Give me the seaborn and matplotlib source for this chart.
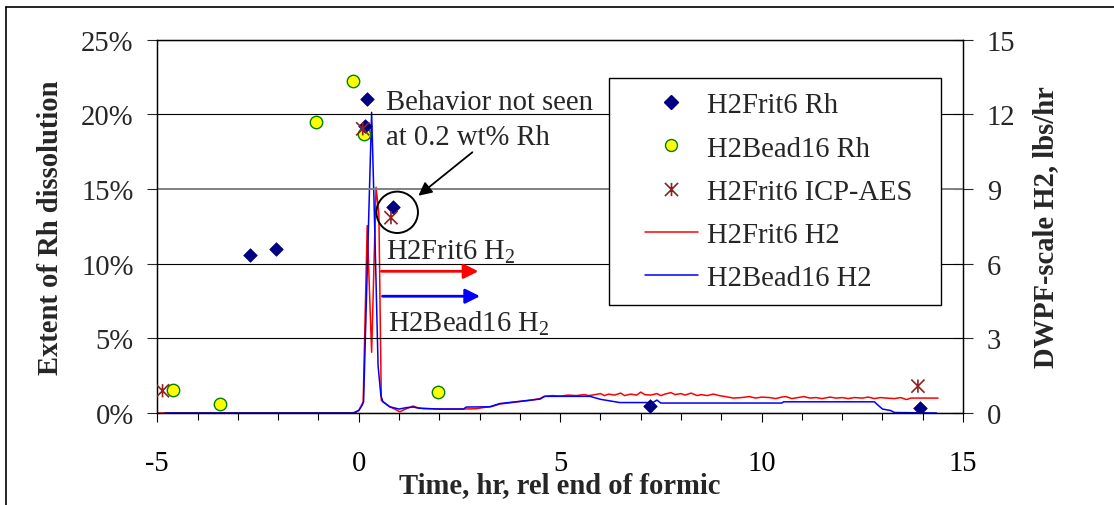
import numpy as np
import pandas as pd
import matplotlib
matplotlib.use("Agg")
import matplotlib.pyplot as plt
import seaborn as sns
from matplotlib.lines import Line2D
from matplotlib.patches import Ellipse
from matplotlib.path import Path
from matplotlib.ticker import MultipleLocator, PercentFormatter
from matplotlib.legend_handler import HandlerLine2D

# ---------------- data ----------------
frit_rh_t = [-2.69, -2.06, 0.16, 0.20, 0.84, 7.23, 13.93]
frit_rh_pct = [10.56, 11.0, 19.25, 21.03, 13.79, 0.49, 0.33]

bead_rh_t = [-4.62, -3.44, -1.05, -0.13, 0.14, 1.96]
bead_rh_pct = [1.54, 0.58, 19.47, 22.26, 18.7, 1.38]

icp_t = [-4.87, 0.10, 0.80, 13.88]
icp_pct = [1.49, 19.03, 13.08, 1.80]

frit_h2_t = [-5.0, -0.10, 0.00, 0.08, 0.11, 0.21, 0.32, 0.43, 0.50, 0.56, 0.65, 0.77,
             0.90, 1.02, 1.15, 1.35, 1.45, 1.60, 2.00, 2.60, 2.90, 3.10, 3.30, 3.50,
             3.80, 4.00, 4.30, 4.50, 4.60, 4.80, 5.00, 5.20, 5.40, 5.60, 5.70,
             5.80, 6.00, 6.10, 6.20, 6.35, 6.50, 6.60, 6.75, 6.90, 7.00, 7.10, 7.25,
             7.40, 7.50, 7.60, 7.75, 7.85, 8.00, 8.10, 8.25, 8.40, 8.50, 8.65, 8.80,
             8.95, 9.10, 9.30, 9.50, 9.70, 9.85, 10.00, 10.20, 10.35, 10.50, 10.60,
             10.75, 10.90, 11.05, 11.20, 11.35, 11.50, 11.70, 11.85, 12.00, 12.15,
             12.30, 12.50, 12.65, 12.80, 12.95, 13.10, 13.30, 13.45, 13.60, 13.70,
             13.90, 14.10, 14.38]
frit_h2 = [0.0, 0.0, 0.10, 0.35, 0.45, 7.53, 2.44, 9.07, 8.00, 0.50, 0.40, 0.25,
           0.15, 0.05, 0.15, 0.28, 0.22, 0.18, 0.16, 0.16, 0.17, 0.22, 0.26, 0.36,
           0.42, 0.46, 0.52, 0.58, 0.67, 0.70, 0.68, 0.72, 0.70, 0.74, 0.70,
           0.72, 0.78, 0.70, 0.76, 0.72, 0.80, 0.70, 0.76, 0.72, 0.84, 0.74, 0.72,
           0.78, 0.70, 0.76, 0.82, 0.74, 0.78, 0.72, 0.80, 0.70, 0.74, 0.70, 0.76,
           0.70, 0.66, 0.60, 0.62, 0.66, 0.60, 0.64, 0.62, 0.58, 0.64, 0.66,
           0.58, 0.62, 0.66, 0.60, 0.62, 0.58, 0.64, 0.60, 0.62, 0.58,
           0.62, 0.60, 0.64, 0.58, 0.62, 0.60, 0.58, 0.62, 0.54, 0.60,
           0.60, 0.60, 0.60]

bead_h2_t = [-4.80, -0.15, 0.00, 0.08, 0.12, 0.32, 0.40, 0.48, 0.55, 0.60, 0.77, 1.00,
             1.20, 1.35, 1.50, 2.00, 2.60, 2.67, 3.25, 3.50, 4.00, 4.50, 4.62, 5.74,
             6.00, 6.15, 6.48, 7.30, 7.40, 7.50, 10.50, 10.55, 12.80, 12.90, 13.00,
             13.20, 13.30, 14.34]
bead_h2 = [0.0, 0.0, 0.10, 0.30, 0.45, 12.08, 7.26, 1.90, 0.70, 0.45, 0.25, 0.16,
           0.22, 0.24, 0.19, 0.16, 0.16, 0.24, 0.25, 0.38, 0.47, 0.56, 0.67, 0.67,
           0.55, 0.51, 0.42, 0.42, 0.52, 0.40, 0.40, 0.45, 0.45, 0.30, 0.16,
           0.10, 0.02, 0.0]

legend_labels = ["H2Frit6 Rh", "H2Bead16 Rh", "H2Frit6 ICP-AES", "H2Frit6 H2", "H2Bead16 H2"]

# ---------------- style ----------------
sns.set_style("white")
plt.rcParams["font.family"] = ["Liberation Serif", "DejaVu Serif"]
plt.rcParams["mathtext.fontset"] = "custom"
plt.rcParams["mathtext.rm"] = "Liberation Serif"
plt.rcParams["mathtext.it"] = "Liberation Serif:italic"
plt.rcParams["axes.edgecolor"] = "black"
plt.rcParams["axes.unicode_minus"] = False

FS = 20.6
NAVY = "#000080"
YEL = "#FFFF00"
GRN = "#008000"
DRED = "#8B2323"
RED = "#FF0000"
BLUE = "#0000FF"

star = Path([(-1, -1), (1, 1), (-1, 1), (1, -1), (0, -1), (0, 1)],
            [Path.MOVETO, Path.LINETO] * 3)

fig, ax = plt.subplots(figsize=(11.14, 5.06), dpi=100)
fig.subplots_adjust(left=0.1412, right=0.8645, bottom=0.1818, top=0.9196)
ax2 = ax.twinx()

# ---- H2 lines (right axis) ----
df_f = pd.DataFrame({"t": frit_h2_t, "v": frit_h2})
df_b = pd.DataFrame({"t": bead_h2_t, "v": bead_h2})
sns.lineplot(data=df_f, x="t", y="v", ax=ax2, color=RED, lw=1.1,
             estimator=None, sort=False, legend=False)
sns.lineplot(data=df_b, x="t", y="v", ax=ax2, color=BLUE, lw=1.1,
             estimator=None, sort=False, legend=False)

# ---- Rh scatter (left axis) ----
sns.scatterplot(x=frit_rh_t, y=frit_rh_pct, ax=ax, marker="D", s=48,
                color=NAVY, edgecolor=NAVY, linewidth=0.5, zorder=5, legend=False)
sns.scatterplot(x=bead_rh_t, y=bead_rh_pct, ax=ax, marker="o", s=80,
                facecolor=YEL, edgecolor=GRN, linewidth=1.0, zorder=4, legend=False)
sns.scatterplot(x=icp_t, y=icp_pct, ax=ax, marker=star, s=90,
                facecolor="none", edgecolor=DRED, linewidth=1.2, zorder=6, legend=False)

# ---- axes ----
ax.set_xlim(-5, 15)
ax.set_ylim(0, 25)
ax2.set_ylim(0, 15)
ax.xaxis.set_major_locator(MultipleLocator(5))
ax.xaxis.set_minor_locator(MultipleLocator(1))
ax.yaxis.set_major_locator(MultipleLocator(5))
ax.yaxis.set_major_formatter(PercentFormatter(xmax=100, decimals=0))
ax2.yaxis.set_major_locator(MultipleLocator(3))

ax.set_zorder(ax2.get_zorder() + 1)
ax.patch.set_visible(False)

ax.grid(False)
ax2.grid(False)
ax.yaxis.grid(True, color="black", lw=0.8)
gl = ax.get_ygridlines()
for tick_val, line in zip(ax.get_yticks(), gl):
    if abs(tick_val - 15) < 1e-6:
        line.set_color("#808080")
        line.set_linewidth(1.4)

for a in (ax, ax2):
    for s in a.spines.values():
        s.set_color("black")
        s.set_linewidth(0.9)

ax.tick_params(axis="x", which="major", direction="out", length=6.3, width=0.8,
               pad=20, labelsize=FS, bottom=True, colors="black")
ax.tick_params(axis="x", which="minor", direction="out", length=4.8, width=0.8,
               bottom=True, colors="black")
ax.tick_params(axis="y", which="major", direction="out", length=7, width=0.8,
               pad=10, labelsize=FS, left=True, right=False)
ax2.tick_params(axis="y", which="major", direction="inout", length=14.4, width=0.8,
                pad=10, labelsize=FS, right=True)

ax.set_xlabel("Time, hr, rel end of formic", fontsize=FS, fontweight="bold", labelpad=-3)
ax.set_ylabel("Extent of Rh dissolution", fontsize=FS, fontweight="bold", labelpad=12)
ax2.set_ylabel("DWPF-scale H2, lbs/hr", fontsize=FS, fontweight="bold", labelpad=12)

# ---- annotations ----
ax.text(0.67, 20.36, "Behavior not seen", fontsize=FS, va="baseline", ha="left")
ax.text(0.67, 18.02, "at 0.2 wt% Rh", fontsize=FS, va="baseline", ha="left")
ax.text(0.67, 10.31, "H2Frit6 H$_2$", fontsize=FS, va="baseline", ha="left")
ax.text(0.72, 5.51, "H2Bead16 H$_2$", fontsize=FS, va="baseline", ha="left")

ax.add_patch(Ellipse((0.955, 13.44), width=1.03, height=2.77, fill=False,
                     edgecolor="black", lw=1.4, zorder=7))
ax.annotate("", xy=(1.48, 14.55), xytext=(2.82, 17.46),
            arrowprops=dict(arrowstyle="-|>", color="black", lw=1.3,
                            mutation_scale=20, shrinkA=0, shrinkB=0))
ax.annotate("", xy=(2.97, 9.49), xytext=(0.56, 9.49),
            arrowprops=dict(arrowstyle="-|>", color=RED, lw=2,
                            mutation_scale=22, shrinkA=0, shrinkB=0))
ax.annotate("", xy=(3.01, 7.82), xytext=(0.59, 7.82),
            arrowprops=dict(arrowstyle="-|>", color=BLUE, lw=2,
                            mutation_scale=22, shrinkA=0, shrinkB=0))

# ---- legend ----
handles = [
    Line2D([], [], ls="none", marker="D", ms=7.0, mfc=NAVY, mec=NAVY),
    Line2D([], [], ls="none", marker="o", ms=8.6, mfc=YEL, mec=GRN, mew=1.0),
    Line2D([], [], ls="none", marker=star, ms=9.5, mfc="none", mec=DRED, mew=1.2),
    Line2D([], [], color=RED, lw=1.1),
    Line2D([], [], color=BLUE, lw=1.1),
]
hmap = {h: HandlerLine2D(xpad=0.75) for h in handles}
leg = ax.legend(handles, legend_labels, loc="upper left",
                bbox_to_anchor=(0.5606, 0.3115, 0.973 - 0.5606, 0.8974 - 0.3115),
                bbox_transform=ax.transAxes, mode="expand",
                borderaxespad=0, fontsize=FS, frameon=True, fancybox=False,
                framealpha=1, edgecolor="black", facecolor="white",
                borderpad=0.5, labelspacing=0.6, handlelength=2.6,
                handletextpad=0.31, handler_map=hmap)
leg.get_frame().set_linewidth(1.0)
leg.set_zorder(20)

# ---- figure border (top and left) ----
fig.add_artist(Line2D([6 / 1114, 1.0], [1 - 8 / 506, 1 - 8 / 506],
                      transform=fig.transFigure, color="black", lw=1.2))
fig.add_artist(Line2D([6 / 1114, 6 / 1114], [0.0, 1 - 8 / 506],
                      transform=fig.transFigure, color="black", lw=1.2))

fig.savefig("out.png", dpi=100, facecolor="white")
